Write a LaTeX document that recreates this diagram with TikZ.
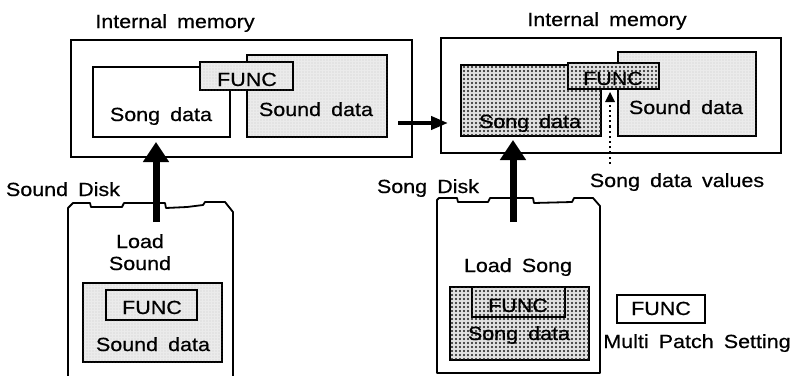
\documentclass[tikz,border=0pt]{standalone}
\usepackage{fontspec}
\setmainfont{Liberation Sans}[WordSpace=1.7,FakeBold=0.6,FakeStretch=1.13]
\usetikzlibrary{arrows.meta,patterns}
\pgfdeclarepatternformonly{densedots}{\pgfqpoint{-1.5pt}{-1.5pt}}{\pgfqpoint{4pt}{4pt}}{\pgfqpoint{4pt}{4pt}}{%
  \pgfpathcircle{\pgfqpoint{0pt}{0pt}}{1.2pt}\pgfusepath{fill}}
\pgfdeclarepatternformonly{lightdots}{\pgfqpoint{-1pt}{-1pt}}{\pgfqpoint{4pt}{4pt}}{\pgfqpoint{3pt}{3pt}}{%
  \pgfpathcircle{\pgfqpoint{0pt}{0pt}}{0.45pt}\pgfusepath{fill}}
\tikzset{
  membox/.style={draw, line width=2pt, anchor=north west, inner sep=0pt, outer sep=0pt},
  databox/.style={draw, line width=1.6pt, anchor=north west, inner sep=0pt, outer sep=0pt, fill=white},
  light/.style={fill=black!8, postaction={pattern=lightdots, pattern color=black!45}},
  dense/.style={fill=black!12, postaction={pattern=densedots, pattern color=black!90}},
  lbl/.style={anchor=base, inner sep=0pt, font=\fontsize{19}{22}\selectfont},
  disk/.style={draw, line width=1.8pt, line join=round},
  bigarrow/.style={line width=7pt, -{Triangle[width=25pt,length=20pt]}},
  midarrow/.style={line width=4pt, -{Triangle[width=13pt,length=17pt]}},
  dotarrow/.style={line width=2.2pt, dash pattern=on 2.2pt off 3pt, -{Triangle[width=10pt,length=10pt,line width=0pt]}}
}
\begin{document}
\begin{tikzpicture}[x=1pt,y=-1pt]
\useasboundingbox[fill=white] (0,0) rectangle (791,375);

% ---------- left internal memory ----------
\node[lbl] (im1) at (175,28) {Internal memory};
\node[membox, minimum width=341pt, minimum height=117pt] (mem1) at (71,40) {};
\node[databox, minimum width=137pt, minimum height=70pt] (song1) at (93,67) {};
\node[databox, light, minimum width=140pt, minimum height=82pt] (sound1) at (247,55) {};
\node[databox, light, minimum width=93pt, minimum height=28pt] (func1) at (200,62) {};
\node[lbl] (song1t) at (161,121) {Song data};
\node[lbl] (sound1t) at (316,116) {Sound data};
\node[lbl] (func1t) at (247,86) {FUNC};

% ---------- right internal memory ----------
\node[lbl] (im2) at (607,26) {Internal memory};
\node[membox, minimum width=340pt, minimum height=115pt] (mem2) at (441,38) {};
\node[databox, dense, minimum width=140pt, minimum height=71pt] (song2) at (461,65) {};
\node[databox, light, minimum width=138pt, minimum height=84pt] (sound2) at (618,52) {};
\node[databox, dense, minimum width=91pt, minimum height=26pt] (func2) at (568,63) {};
\node[lbl] (song2t) at (530,128) {Song data};
\node[lbl] (sound2t) at (686,114) {Sound data};
\node[lbl] (func2t) at (613,85) {FUNC};
\node[lbl] (sdv) at (677,187) {Song data values};

% ---------- left disk ----------
\node[lbl] (sdisk) at (63,196) {Sound Disk};
\draw[disk] (68,380) -- (68,208) -- (73,203) -- (90,203) -- (91,207) -- (122,207) -- (124,203)
  -- (165,203) -- (166,208) -- (187,207) -- (203,205) -- (205,202) -- (225,202) -- (233,212) -- (233,380);
\node[lbl] (load1) at (140,248) {Load};
\node[lbl] (load1b) at (140,270) {Sound};
\node[databox, light, minimum width=139pt, minimum height=79pt] (sound3) at (83,283) {};
\node[databox, light, minimum width=91pt, minimum height=30pt] (func3) at (106,290) {};
\node[lbl] (func3t) at (152,314) {FUNC};
\node[lbl] (sound3t) at (153,351) {Sound data};

% ---------- right disk ----------
\node[lbl] (sgdisk) at (428,193) {Song Disk};
\draw[disk] (437,373) -- (437,200) -- (439,198) -- (457,198) -- (458,202) -- (488,202) -- (490,198)
  -- (533,198) -- (534,203) -- (572,202) -- (574,198) -- (593,198) -- (600,206) -- (600,373) -- cycle;
\node[lbl] (load2) at (518,272) {Load Song};
\node[databox, dense, minimum width=139pt, minimum height=73pt] (song4) at (450,287) {};
\node[databox, dense, minimum width=93pt, minimum height=30pt] (func4) at (472,287) {};
\node[lbl] (func4t) at (518,312) {FUNC};
\node[lbl] (song4t) at (519,340) {Song data};

% ---------- legend ----------
\node[databox, minimum width=88pt, minimum height=28pt] (func5) at (617,295) {};
\node[lbl] (func5t) at (661,315) {FUNC};
\node[lbl] (mps) at (697,348) {Multi Patch Setting};

% ---------- arrows ----------
\coordinate (a1s) at (156,222);
\coordinate (a1e) at (156,142);
\draw[bigarrow] (a1s) -- (a1e);
\coordinate (a2s) at (513,222);
\coordinate (a2e) at (513,140);
\draw[bigarrow] (a2s) -- (a2e);
\coordinate (a3s) at (398,123);
\coordinate (a3e) at (448,123);
\draw[midarrow] (a3s) -- (a3e);
\coordinate (a4s) at (610,164);
\coordinate (a4e) at (610,92);
\draw[dotarrow] (a4s) -- (a4e);
\end{tikzpicture}
\end{document}
